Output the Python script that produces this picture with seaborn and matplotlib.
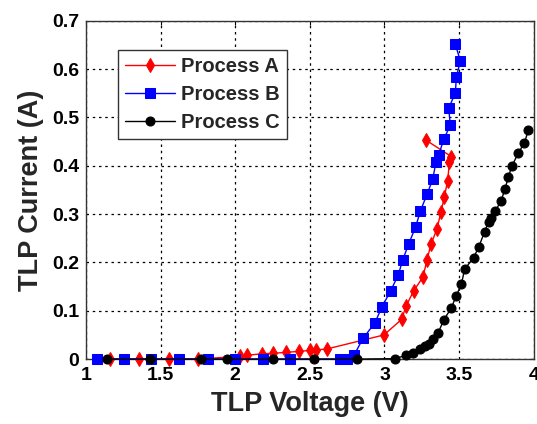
import matplotlib
matplotlib.use("Agg")
import matplotlib.pyplot as plt
import seaborn as sns
import pandas as pd

# Process A (red diamonds)
a_v = [1.161, 1.358, 1.559, 1.753, 2.033, 2.078, 2.178, 2.252, 2.341, 2.424, 2.502, 2.543, 2.614,
       2.996, 3.114, 3.145, 3.195, 3.258, 3.285, 3.312, 3.352, 3.379, 3.401, 3.423, 3.435, 3.448, 3.278]
a_i = [0, 0, 0, 0, 0.006, 0.008, 0.011, 0.012, 0.014, 0.016, 0.018, 0.019, 0.021,
       0.050, 0.082, 0.110, 0.141, 0.170, 0.206, 0.238, 0.270, 0.305, 0.336, 0.369, 0.408, 0.419, 0.453]

# Process B (blue squares)
b_v = [1.072, 1.257, 1.436, 1.626, 1.816, 1.999, 2.185, 2.368, 2.699, 2.748,
       2.796, 2.856, 2.936, 2.981, 3.041, 3.092, 3.123, 3.163, 3.208, 3.241, 3.285,
       3.323, 3.345, 3.363, 3.397, 3.441, 3.430, 3.475, 3.481, 3.508, 3.475]
b_i = [0, 0, 0, 0, 0, 0, 0, 0, 0, 0,
       0.008, 0.043, 0.075, 0.107, 0.141, 0.174, 0.206, 0.239, 0.273, 0.307, 0.341,
       0.372, 0.408, 0.422, 0.455, 0.484, 0.519, 0.551, 0.583, 0.617, 0.651]

# Process C (black circles)
c_v = [1.139, 1.429, 1.769, 1.944, 2.250, 2.531, 2.815, 3.069,
       3.147, 3.190, 3.241, 3.270, 3.296, 3.325, 3.359, 3.397, 3.448, 3.479, 3.515, 3.537,
       3.597, 3.630, 3.670, 3.697, 3.715, 3.742, 3.782, 3.808, 3.830, 3.853, 3.897, 3.937, 3.964]
c_i = [0, 0, 0, 0, 0, 0, 0, 0.001,
       0.008, 0.013, 0.020, 0.027, 0.032, 0.041, 0.054, 0.081, 0.106, 0.130, 0.155, 0.186,
       0.210, 0.231, 0.263, 0.284, 0.291, 0.306, 0.328, 0.353, 0.377, 0.399, 0.427, 0.447, 0.474]

series_names = ["Process A", "Process B", "Process C"]
x_ticks = [1, 1.5, 2, 2.5, 3, 3.5, 4]
x_tick_labels = ["1", "1.5", "2", "2.5", "3", "3.5", "4"]
y_ticks = [0, 0.1, 0.2, 0.3, 0.4, 0.5, 0.6, 0.7]
y_tick_labels = ["0", "0.1", "0.2", "0.3", "0.4", "0.5", "0.6", "0.7"]

sns.set_style("white")
plt.rcParams["font.family"] = ["Liberation Sans", "DejaVu Sans"]
plt.rcParams["font.weight"] = "bold"

fig = plt.figure(figsize=(5.37, 4.24), dpi=100)
ax = fig.add_axes([0.160, 0.153, 0.834, 0.798])

styles = [
    dict(color="#ff0000", marker="d", markersize=7.5),
    dict(color="#0000ff", marker="s", markersize=6.5),
    dict(color="#000000", marker="o", markersize=6.5),
]
data = [(a_v, a_i), (b_v, b_i), (c_v, c_i)]
for name, (v, i), st in zip(series_names, data, styles):
    df = pd.DataFrame({"v": v, "i": i})
    sns.lineplot(data=df, x="v", y="i", ax=ax, sort=False, estimator=None,
                 color=st["color"], marker=st["marker"], markersize=st["markersize"],
                 markeredgecolor=st["color"], markerfacecolor=st["color"],
                 linewidth=1.0, label=name, clip_on=False, zorder=3)

ax.set_xlim(1, 4)
ax.set_ylim(0, 0.7)
ax.set_xticks(x_ticks)
ax.set_xticklabels(x_tick_labels)
ax.set_yticks(y_ticks)
ax.set_yticklabels(y_tick_labels)
ax.tick_params(axis="both", labelsize=14, direction="in", length=3, width=0.8,
               top=True, right=True, colors="black")
ax.tick_params(axis="y", pad=5)
ax.tick_params(axis="x", pad=6)
for lab in ax.get_xticklabels() + ax.get_yticklabels():
    lab.set_fontweight("bold")
ax.grid(True, color="black", linestyle=(0, (2, 3)), linewidth=0.9)
for sp in ax.spines.values():
    sp.set_color("#333333")
    sp.set_linewidth(1.0)

ax.set_xlabel("TLP Voltage (V)", fontsize=19.5, fontweight="bold", labelpad=5)
ax.set_ylabel("TLP Current (A)", fontsize=19.5, fontweight="bold", labelpad=6)

leg = ax.legend(loc="upper left", bbox_to_anchor=(0.071, 0.915), fontsize=14.5,
                frameon=True, fancybox=False, edgecolor="#333333", framealpha=1,
                handlelength=2.5, borderpad=0.35, labelspacing=0.45, handletextpad=0.3,
                borderaxespad=0)
leg.get_frame().set_linewidth(1.0)
for t in leg.get_texts():
    t.set_fontweight("bold")

fig.savefig("out.png", dpi=100)
